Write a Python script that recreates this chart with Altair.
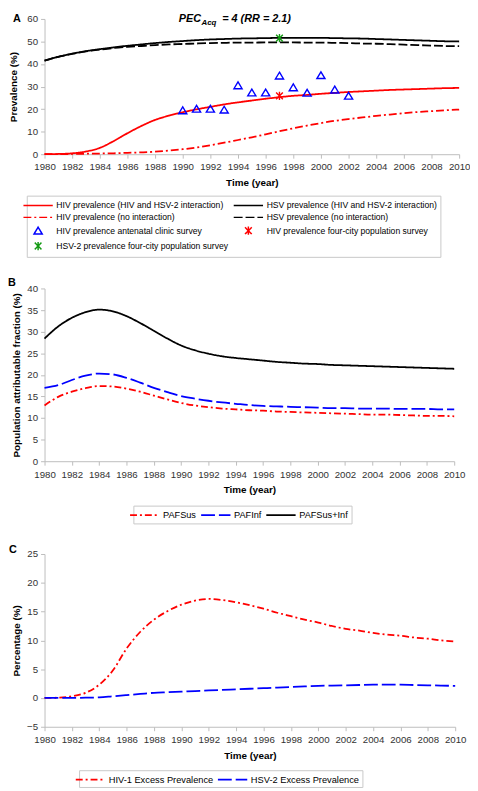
import altair as alt
import pandas as pd

years = list(range(1980, 2011))

# Panel A
hiv_inter = [0.0, 0.1, 0.4, 1.2, 2.8, 5.8, 9.3, 12.5, 15.2, 17.1, 18.6, 19.9, 21.0, 22.1, 23.0, 23.8,
             24.6, 25.3, 25.9, 26.3, 26.8, 27.2, 27.6, 27.9, 28.2, 28.5, 28.7, 28.9, 29.1, 29.3, 29.4]
hiv_noint = [0.0, 0.0, 0.1, 0.2, 0.3, 0.4, 0.6, 0.8, 1.1, 1.6, 2.2, 3.0, 4.0, 5.1, 6.3, 7.5,
             8.8, 10.2, 11.5, 12.7, 13.8, 14.8, 15.6, 16.3, 17.0, 17.6, 18.2, 18.7, 19.1, 19.5, 19.8]
hsv_inter = [41.5, 43.2, 44.6, 45.7, 46.6, 47.4, 48.1, 48.7, 49.3, 49.8, 50.2, 50.6, 50.9, 51.1, 51.3, 51.4,
             51.5, 51.6, 51.6, 51.6, 51.6, 51.5, 51.4, 51.3, 51.1, 50.9, 50.7, 50.5, 50.3, 50.1, 50.0]
hsv_noint = [41.5, 43.2, 44.5, 45.6, 46.4, 47.1, 47.6, 48.0, 48.4, 48.7, 48.9, 49.1, 49.3, 49.4, 49.5, 49.5,
             49.6, 49.6, 49.6, 49.5, 49.5, 49.4, 49.3, 49.1, 49.0, 48.8, 48.6, 48.4, 48.2, 48.0, 47.9]
anc_years = [1990, 1991, 1992, 1993, 1994, 1995, 1996, 1997, 1998, 1999, 2000, 2001, 2002]
anc_vals = [19.4, 20.1, 20.1, 19.7, 30.5, 27.3, 27.3, 34.8, 29.6, 27.2, 35.0, 28.6, 25.9]
hiv_city_years = [1997]
hiv_city_vals = [25.9]
hsv_city_years = [1997]
hsv_city_vals = [51.5]

# Panel B
paf_sus = [12.9, 14.9, 16.1, 16.9, 17.4, 17.3, 16.8, 16.1, 15.2, 14.3, 13.5, 12.9, 12.5, 12.2, 12.0, 11.8,
           11.7, 11.5, 11.4, 11.3, 11.2, 11.1, 11.0, 10.9, 10.8, 10.8, 10.7, 10.6, 10.5, 10.5, 10.4]
paf_inf = [17.0, 17.6, 18.8, 19.8, 20.3, 20.1, 19.3, 18.2, 17.0, 16.0, 15.1, 14.5, 14.0, 13.6, 13.3, 13.0,
           12.8, 12.7, 12.6, 12.5, 12.4, 12.3, 12.3, 12.2, 12.2, 12.2, 12.1, 12.1, 12.1, 12.0, 12.0]
paf_both = [28.4, 31.2, 33.2, 34.5, 35.1, 34.7, 33.6, 32.0, 30.2, 28.4, 26.8, 25.7, 24.9, 24.3, 23.9, 23.6,
            23.3, 23.0, 22.8, 22.6, 22.5, 22.3, 22.2, 22.1, 22.0, 21.9, 21.8, 21.7, 21.6, 21.5, 21.4]

# Panel C
excess_hiv = [0.0, 0.05, 0.3, 0.9, 2.3, 4.8, 8.6, 11.5, 13.6, 15.1, 16.2, 16.9, 17.2, 17.0, 16.6, 16.1,
              15.5, 14.8, 14.2, 13.6, 13.1, 12.5, 12.0, 11.7, 11.3, 11.0, 10.8, 10.5, 10.3, 10.0, 9.8]
excess_hsv = [0.0, 0.0, 0.0, 0.05, 0.1, 0.3, 0.5, 0.7, 0.9, 1.0, 1.1, 1.2, 1.3, 1.4, 1.5, 1.6,
              1.7, 1.8, 1.9, 2.0, 2.1, 2.15, 2.2, 2.25, 2.3, 2.3, 2.3, 2.25, 2.2, 2.15, 2.1]

A_names = ["HIV prevalence (HIV and HSV-2 interaction)",
           "HSV prevalence (HIV and HSV-2 interaction)",
           "HIV prevalence (no interaction)",
           "HSV prevalence (no interaction)",
           "HIV prevalence antenatal clinic survey",
           "HIV prevalence four-city population survey",
           "HSV-2 prevalence four-city population survey"]
B_names = ["PAFSus", "PAFInf", "PAFSus+Inf"]
C_names = ["HIV-1 Excess Prevalence", "HSV-2 Excess Prevalence"]

FONT = "Liberation Sans"
LINE = "M-2.7,0H2.7"
TRI = "M0,-0.65L0.75,0.6L-0.75,0.6Z"
AST = "M-0.62,-0.62L0.62,0.62M-0.62,0.62L0.62,-0.62M0,-0.76L0,0.76"
RED, BLUE, BLACK, GREEN = "#ff0000", "#0000ff", "#000000", "#139a13"
AXIS_GRAY = "#bdbdbd"
SYM = 121


def long_df(names, series):
    rows = []
    for n, s in zip(names, series):
        for yr, v in zip(years, s):
            rows.append({"year": yr, "value": v, "series": n})
    return pd.DataFrame(rows)


def xaxis():
    return alt.X("year:Q", scale=alt.Scale(domain=[1980, 2010], nice=False),
                 axis=alt.Axis(title="Time (year)", values=list(range(1980, 2011, 2)), format="d",
                               labelPadding=4, titlePadding=6, labelOverlap=False, labelFlush=False))


def letter(ch, x, y):
    return alt.Chart(pd.DataFrame({"k": [0]})).mark_text(
        font=FONT, fontSize=11, fontWeight="bold", align="left", baseline="middle", color="black"
    ).encode(x=alt.value(x), y=alt.value(y), text=alt.value(ch))


# ---------- Panel A ----------
dfA_lines = long_df(A_names[:4], [hiv_inter, hsv_inter, hiv_noint, hsv_noint])
dfA_pts = pd.DataFrame(
    [{"year": a, "value": b, "series": A_names[4]} for a, b in zip(anc_years, anc_vals)]
    + [{"year": a, "value": b, "series": A_names[5]} for a, b in zip(hiv_city_years, hiv_city_vals)]
    + [{"year": a, "value": b, "series": A_names[6]} for a, b in zip(hsv_city_years, hsv_city_vals)]
)

legA = alt.Legend(title=None, orient="none", legendX=-18, legendY=179, columns=2, direction="horizontal",
                  symbolSize=SYM, symbolStrokeWidth=1.5, symbolOffset=2, labelOffset=12,
                  labelFont=FONT, labelFontSize=8.7, labelColor="black", labelLimit=400,
                  strokeColor="#c8c8c8", padding=3, rowPadding=0.5, columnPadding=2)
colA = alt.Color("series:N", scale=alt.Scale(domain=A_names,
                 range=[RED, BLACK, RED, BLACK, BLUE, RED, GREEN]), legend=legA)
dashA = alt.StrokeDash("series:N", scale=alt.Scale(domain=A_names,
                       range=[[1, 0], [1, 0], [8, 3, 2, 3], [9, 3], [1, 0], [1, 0], [1, 0]]), legend=legA)
shapeA = alt.Shape("series:N", scale=alt.Scale(domain=A_names,
                   range=[LINE, LINE, LINE, LINE, TRI, AST, AST]), legend=legA)
yA = alt.Y("value:Q", scale=alt.Scale(domain=[0, 60]),
           axis=alt.Axis(title="Prevalence (%)", values=list(range(0, 61, 10)), titlePadding=8))

linesA = alt.Chart(dfA_lines).mark_line(strokeWidth=1.8, interpolate="monotone", strokeJoin="round").encode(
    x=xaxis(), y=yA, color=colA, strokeDash=dashA, detail="series:N")
ptsA = alt.Chart(dfA_pts).mark_point(filled=False, strokeWidth=1.4, opacity=1, size=SYM).encode(
    x=xaxis(), y=yA, color=colA, shape=shapeA)

titleA = [
    alt.Chart(pd.DataFrame({"k": [0]})).mark_text(font=FONT, fontSize=11, fontWeight="bold",
        fontStyle="italic", align="left", baseline="alphabetic", color="black").encode(
        x=alt.value(136), y=alt.value(3), text=alt.value("PEC")),
    alt.Chart(pd.DataFrame({"k": [0]})).mark_text(font=FONT, fontSize=8, fontWeight="bold",
        fontStyle="italic", align="left", baseline="alphabetic", color="black").encode(
        x=alt.value(159), y=alt.value(6), text=alt.value("Acq")),
    alt.Chart(pd.DataFrame({"k": [0]})).mark_text(font=FONT, fontSize=11, fontWeight="bold",
        fontStyle="italic", align="left", baseline="alphabetic", color="black").encode(
        x=alt.value(180), y=alt.value(3), text=alt.value("= 4 (RR = 2.1)")),
]

panelA = alt.layer(linesA, ptsA, letter("A", -32, 0), *titleA).properties(width=420, height=137)

# ---------- Panel B ----------
dfB = long_df(B_names, [paf_sus, paf_inf, paf_both])
legB = alt.Legend(title=None, orient="none", legendX=90, legendY=220, direction="horizontal",
                  symbolType=LINE, symbolSize=SYM, symbolStrokeWidth=1.8, symbolOffset=2, labelOffset=12,
                  labelFont=FONT, labelFontSize=9.3, labelColor="black", labelLimit=400,
                  strokeColor="#c8c8c8", padding=3, columnPadding=1)
panelB = alt.layer(
    alt.Chart(dfB).mark_line(strokeWidth=1.8, interpolate="monotone", strokeJoin="round").encode(
        x=xaxis(),
        y=alt.Y("value:Q", scale=alt.Scale(domain=[0, 40]),
                axis=alt.Axis(title="Population attributable fraction (%)", values=list(range(0, 41, 5)),
                              titlePadding=5)),
        color=alt.Color("series:N", scale=alt.Scale(domain=B_names, range=[RED, BLUE, BLACK]), legend=legB),
        strokeDash=alt.StrokeDash("series:N", scale=alt.Scale(domain=B_names,
                                  range=[[7, 3, 2, 3], [14, 4], [1, 0]]), legend=legB)),
    letter("B", -37, -5),
).properties(width=415, height=175)

# ---------- Panel C ----------
dfC = long_df(C_names, [excess_hiv, excess_hsv])
legC = alt.Legend(title=None, orient="none", legendX=35, legendY=219, direction="horizontal",
                  symbolType=LINE, symbolSize=SYM, symbolStrokeWidth=1.8, symbolOffset=2, labelOffset=12,
                  labelFont=FONT, labelFontSize=9.4, labelColor="black", labelLimit=400,
                  strokeColor="#c8c8c8", padding=3, columnPadding=1)
panelC = alt.layer(
    alt.Chart(dfC).mark_line(strokeWidth=1.8, interpolate="monotone", strokeJoin="round").encode(
        x=xaxis(),
        y=alt.Y("value:Q", scale=alt.Scale(domain=[-5, 25]),
                axis=alt.Axis(title="Percentage (%)", values=list(range(-5, 26, 5)), titlePadding=5)),
        color=alt.Color("series:N", scale=alt.Scale(domain=C_names, range=[RED, BLUE]), legend=legC),
        strokeDash=alt.StrokeDash("series:N", scale=alt.Scale(domain=C_names,
                                  range=[[7, 3, 2, 3], [14, 4]]), legend=legC)),
    letter("C", -36, -4),
).properties(width=416, height=175)

chart = alt.vconcat(panelA, panelB, panelC, spacing=20).resolve_scale(
    color="independent", strokeDash="independent", shape="independent", x="independent", y="independent"
).resolve_legend(color="independent", strokeDash="independent", shape="independent").properties(
    padding={"left": 0, "top": 0, "right": 0, "bottom": 0}
).configure(font=FONT).configure_view(strokeWidth=0).configure_axis(
    labelFont=FONT, labelFontSize=9.8, labelColor="#333333", titleFont=FONT, titleFontSize=10,
    titleFontWeight="bold", titleColor="black", domainColor=AXIS_GRAY, tickColor=AXIS_GRAY,
    tickSize=4, grid=False, labelPadding=3
)

chart.save("out.html", embed_options={"renderer": "svg", "actions": False})
